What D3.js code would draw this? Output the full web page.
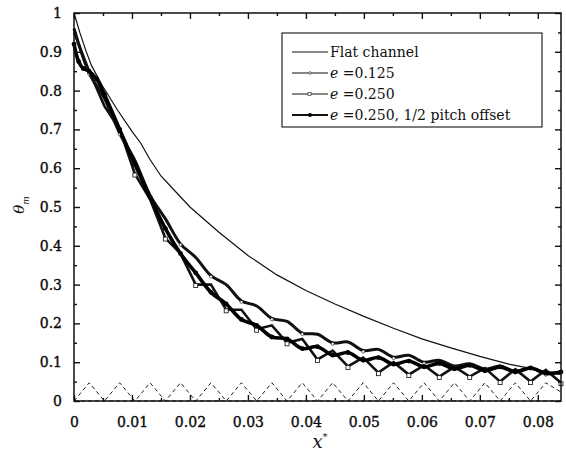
<!DOCTYPE html>
<html>
<head>
<meta charset="utf-8">
<script src="https://cdn.jsdelivr.net/npm/d3@7"></script>
<style>
  body { margin: 0; background: #fff; }
  text { font-family: "DejaVu Serif", serif; fill: #111; }
</style>
</head>
<body>
<div id="chart"></div>
<script>
// ---- data ----
const xTicks = [0, 0.01, 0.02, 0.03, 0.04, 0.05, 0.06, 0.07, 0.08];
const yTicks = [0, 0.1, 0.2, 0.3, 0.4, 0.5, 0.6, 0.7, 0.8, 0.9, 1];
const yTickLabels = ["0", "0.1", "0.2", "0.3", "0.4", "0.5", "0.6", "0.7", "0.8", "0.9", "1"];
const xTickLabels = ["0", "0.01", "0.02", "0.03", "0.04", "0.05", "0.06", "0.07", "0.08"];

const flatX = [0, 0.001, 0.002, 0.003, 0.005, 0.0075, 0.01, 0.0115, 0.013, 0.015, 0.0175, 0.02, 0.025, 0.03, 0.035, 0.04, 0.045, 0.05, 0.055, 0.06, 0.065, 0.07, 0.075, 0.08, 0.084];
const flatY = [1.0, 0.95, 0.905, 0.865, 0.81, 0.75, 0.695, 0.665, 0.625, 0.58, 0.54, 0.5, 0.435, 0.375, 0.325, 0.285, 0.25, 0.218, 0.188, 0.16, 0.137, 0.115, 0.095, 0.08, 0.068];

// half-pitch stations
const ribX = [0, 0.002625, 0.00525, 0.007875, 0.0105, 0.013125, 0.01575, 0.018375, 0.021, 0.023625, 0.02625, 0.028875, 0.0315, 0.034125, 0.03675, 0.039375, 0.042, 0.044625, 0.04725, 0.049875, 0.0525, 0.055125, 0.05775, 0.060375, 0.063, 0.065625, 0.06825, 0.070875, 0.0735, 0.076125, 0.07875, 0.081375, 0.084];
const e125Y = [0.96, 0.845, 0.78, 0.69, 0.62, 0.53, 0.47, 0.405, 0.37, 0.323, 0.30, 0.258, 0.245, 0.213, 0.205, 0.175, 0.172, 0.15, 0.152, 0.13, 0.133, 0.113, 0.118, 0.10, 0.105, 0.09, 0.096, 0.082, 0.09, 0.076, 0.085, 0.07, 0.075];
const e250Y = [0.95, 0.85, 0.76, 0.70, 0.585, 0.52, 0.42, 0.38, 0.30, 0.30, 0.235, 0.235, 0.185, 0.195, 0.15, 0.16, 0.107, 0.13, 0.089, 0.112, 0.073, 0.10, 0.068, 0.092, 0.063, 0.088, 0.063, 0.085, 0.05, 0.082, 0.05, 0.08, 0.047];

const offsetX = [0, 0.0008, 0.0016, 0.0026, 0.0039, 0.00525, 0.007875, 0.0105, 0.013125, 0.01575, 0.018375, 0.021, 0.023625, 0.02625, 0.028875, 0.0315, 0.034125, 0.03675, 0.039375, 0.042, 0.044625, 0.04725, 0.049875, 0.0525, 0.055125, 0.05775, 0.060375, 0.063, 0.065625, 0.06825, 0.070875, 0.0735, 0.076125, 0.07875, 0.081375, 0.084];
const offsetY = [0.92, 0.875, 0.857, 0.85, 0.83, 0.79, 0.70, 0.61, 0.525, 0.445, 0.38, 0.33, 0.28, 0.25, 0.21, 0.195, 0.165, 0.16, 0.135, 0.14, 0.118, 0.125, 0.105, 0.112, 0.095, 0.103, 0.088, 0.097, 0.083, 0.092, 0.078, 0.088, 0.075, 0.085, 0.072, 0.075];

// rib profile (dashed)
const ribGeomX = [0, 0.002625, 0.00525, 0.007875, 0.0105, 0.013125, 0.01575, 0.018375, 0.021, 0.023625, 0.02625, 0.028875, 0.0315, 0.034125, 0.03675, 0.039375, 0.042, 0.044625, 0.04725, 0.049875, 0.0525, 0.055125, 0.05775, 0.060375, 0.063, 0.065625, 0.06825, 0.070875, 0.0735, 0.076125, 0.07875, 0.081375, 0.084];
const ribGeomY = [0, 0.047, 0, 0.047, 0, 0.047, 0, 0.047, 0, 0.047, 0, 0.047, 0, 0.047, 0, 0.047, 0, 0.047, 0, 0.047, 0, 0.047, 0, 0.047, 0, 0.047, 0, 0.047, 0, 0.047, 0, 0.047, 0.023];

const legendLabels = ["Flat channel", "e =0.125", "e =0.250", "e =0.250, 1/2 pitch offset"];

// ---- layout ----
const W = 566, H = 461;
const margin = { left: 74, top: 13, right: 5, bottom: 60 };
const width = W - margin.left - margin.right;
const height = H - margin.top - margin.bottom;

const svg = d3.select("#chart").append("svg")
  .attr("width", W).attr("height", H);
const g = svg.append("g").attr("transform", `translate(${margin.left},${margin.top})`);

const x = d3.scaleLinear().domain([0, 0.084]).range([0, width]);
const y = d3.scaleLinear().domain([0, 1]).range([height, 0]);

const line = d3.line().x(d => x(d[0])).y(d => y(d[1]));
const wavy = d3.line().x(d => x(d[0])).y(d => y(d[1])).curve(d3.curveCatmullRom.alpha(0.5));

// rib geometry
g.append("path")
  .attr("d", line(ribGeomX.map((v, i) => [v, ribGeomY[i]])))
  .attr("fill", "none").attr("stroke", "#222").attr("stroke-width", 1)
  .attr("stroke-dasharray", "4,3");
g.append("line")
  .attr("x1", 0).attr("x2", width).attr("y1", y(0)).attr("y2", y(0))
  .attr("stroke", "#222").attr("stroke-width", 1).attr("stroke-dasharray", "4,3");

// flat
g.append("path")
  .attr("d", line(flatX.map((v, i) => [v, flatY[i]])))
  .attr("fill", "none").attr("stroke", "#111").attr("stroke-width", 1.2);

// e = 0.125
const e125 = ribX.map((v, i) => [v, e125Y[i]]);
g.append("path").attr("d", wavy(e125))
  .attr("fill", "none").attr("stroke", "#111").attr("stroke-width", 3);
g.selectAll(".m125").data(e125.filter((d, i) => i % 2 === 1)).join("circle")
  .attr("cx", d => x(d[0])).attr("cy", d => y(d[1]) + 1).attr("r", 1.5)
  .attr("fill", "#fff").attr("stroke", "#111").attr("stroke-width", 0.6);

// e = 0.250
const e250 = ribX.map((v, i) => [v, e250Y[i]]);
g.append("path").attr("d", line(e250))
  .attr("fill", "none").attr("stroke", "#111").attr("stroke-width", 2.6);
g.selectAll(".m250").data(e250.filter((d, i) => i % 2 === 0 && i > 2)).join("rect")
  .attr("x", d => x(d[0]) - 2).attr("y", d => y(d[1]) - 1)
  .attr("width", 4).attr("height", 4)
  .attr("fill", "#fff").attr("stroke", "#111").attr("stroke-width", 0.8);

// e = 0.250 offset
const off = offsetX.map((v, i) => [v, offsetY[i]]);
g.append("path").attr("d", wavy(off))
  .attr("fill", "none").attr("stroke", "#000").attr("stroke-width", 3.6);
g.selectAll(".moff").data(off).join("circle")
  .attr("cx", d => x(d[0])).attr("cy", d => y(d[1])).attr("r", 2.4)
  .attr("fill", "#000");

// ---- axes (ticks inward on all sides) ----
const xMinor = d3.range(0.005, 0.084, 0.01);
const yMinor = d3.range(0.05, 1, 0.1);

g.append("g").attr("transform", `translate(0,${height})`)
  .call(d3.axisBottom(x).tickValues(xTicks).tickSize(-6).tickPadding(16)
    .tickFormat((d, i) => xTickLabels[i]))
  .call(a => a.select(".domain").remove());
g.append("g").attr("transform", `translate(0,${height})`)
  .call(d3.axisBottom(x).tickValues(xMinor).tickSize(-3).tickFormat(""))
  .call(a => a.select(".domain").remove());
g.append("g")
  .call(d3.axisTop(x).tickValues(xTicks).tickSize(-6).tickFormat(""))
  .call(a => a.select(".domain").remove());
g.append("g")
  .call(d3.axisTop(x).tickValues(xMinor).tickSize(-3).tickFormat(""))
  .call(a => a.select(".domain").remove());

g.append("g")
  .call(d3.axisLeft(y).tickValues(yTicks).tickSize(-6).tickPadding(12)
    .tickFormat((d, i) => yTickLabels[i]))
  .call(a => a.select(".domain").remove());
g.append("g")
  .call(d3.axisLeft(y).tickValues(yMinor).tickSize(-3).tickFormat(""))
  .call(a => a.select(".domain").remove());
g.append("g").attr("transform", `translate(${width},0)`)
  .call(d3.axisRight(y).tickValues(yTicks).tickSize(-6).tickFormat(""))
  .call(a => a.select(".domain").remove());
g.append("g").attr("transform", `translate(${width},0)`)
  .call(d3.axisRight(y).tickValues(yMinor).tickSize(-3).tickFormat(""))
  .call(a => a.select(".domain").remove());

g.selectAll(".tick line").attr("stroke", "#111").attr("stroke-width", 1.4);
g.selectAll(".tick text").style("font-size", "14px").style("font-family", "DejaVu Serif, serif")
  .attr("fill", "#000").attr("stroke", "#000").attr("stroke-width", 0.35);

g.append("rect").attr("width", width).attr("height", height)
  .attr("fill", "none").attr("stroke", "#111").attr("stroke-width", 1.5);

// axis labels
svg.append("text")
  .attr("transform", "translate(24,205) rotate(-90)")
  .attr("text-anchor", "middle")
  .style("font-size", "15px").style("font-style", "italic")
  .html('θ<tspan dy="5" font-size="9">m</tspan>');
svg.append("text")
  .attr("x", 320).attr("y", 448)
  .attr("text-anchor", "middle")
  .style("font-size", "18px").style("font-style", "italic")
  .html('x<tspan dy="-8" font-size="10">*</tspan>');

// ---- legend ----
const lg = svg.append("g").attr("transform", "translate(282,33)");
lg.append("rect").attr("width", 260).attr("height", 94)
  .attr("fill", "#fff").attr("stroke", "#111").attr("stroke-width", 1.1);
const rowY = [19, 40, 61, 82];
legendLabels.forEach((lab, i) => {
  const ry = rowY[i];
  lg.append("line").attr("x1", 10).attr("x2", 46).attr("y1", ry).attr("y2", ry)
    .attr("stroke", "#111").attr("stroke-width", i === 3 ? 2 : 1.1);
  if (i === 1) lg.append("circle").attr("cx", 28).attr("cy", ry).attr("r", 1.3).attr("fill", "#fff").attr("stroke", "#111").attr("stroke-width", 0.6);
  if (i === 2) lg.append("rect").attr("x", 26).attr("y", ry - 1.5).attr("width", 3).attr("height", 3).attr("fill", "#fff").attr("stroke", "#111").attr("stroke-width", 0.6);
  if (i === 3) lg.append("circle").attr("cx", 28).attr("cy", ry).attr("r", 2).attr("fill", "#000");
  const t = lg.append("text").attr("x", 48).attr("y", ry + 5).style("font-size", "14px");
  if (i === 0) t.text(lab);
  else {
    t.append("tspan").style("font-style", "italic").text("e");
    t.append("tspan").text(lab.slice(1));
  }
});
</script>
</body>
</html>
